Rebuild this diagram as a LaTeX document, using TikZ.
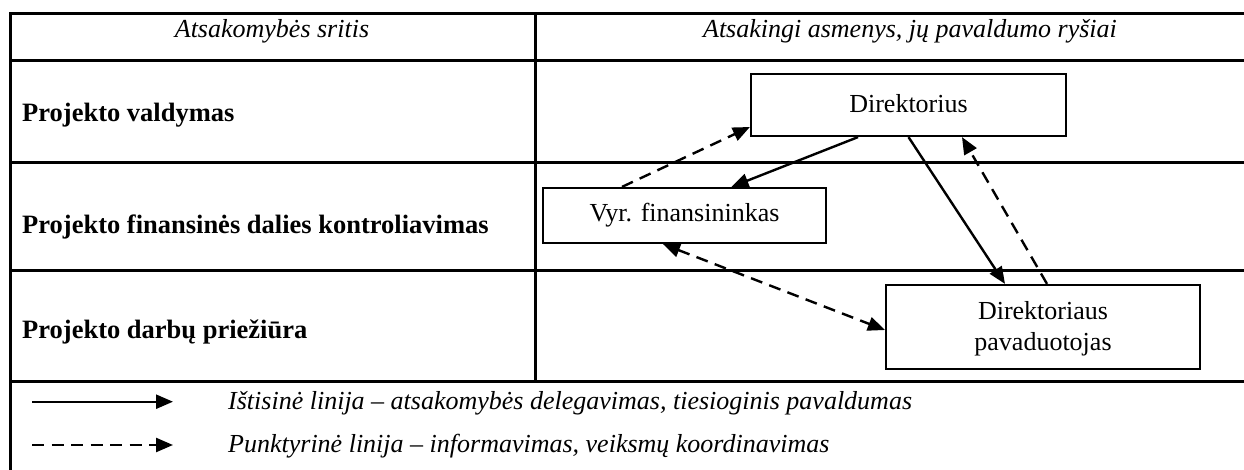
\documentclass[tikz,border=0pt]{standalone}
\usepackage{fontspec}
\setmainfont{Liberation Serif}
\usetikzlibrary{arrows.meta,calc}
\begin{document}
\begin{tikzpicture}[x=1pt,y=-1pt,
  grid/.style={line width=3pt},
  box/.style={draw,line width=2.2pt,rectangle,inner sep=0pt,fill=white,
    font=\fontsize{26}{31}\selectfont,align=center},
  lbl/.style={inner sep=0pt,font=\fontsize{26.5}{31}\selectfont\bfseries,anchor=base west},
  hdr/.style={inner sep=0pt,font=\fontsize{26}{31}\selectfont\itshape,anchor=base},
  leg/.style={inner sep=0pt,font=\fontsize{26}{31}\selectfont\itshape,anchor=base west},
  tip/.tip={Triangle[length=17pt,width=14pt]},
  solidarrow/.style={line width=2.4pt,-tip},
  dasharrow/.style={solidarrow,dash pattern=on 12pt off 7.5pt},
]
\useasboundingbox (0,0) rectangle (1244,470);
\fill[white] (0,0) rectangle (1244,470);

% table rules
\draw[grid] (1250,14) -- (10,14) -- (10,475);
\draw[grid] (10,61) -- (1250,61);
\draw[grid] (10,162.5) -- (1250,162.5);
\draw[grid] (10,270.5) -- (1250,270.5);
\draw[grid] (10,381.5) -- (1250,381.5);
\draw[grid] (535,14) -- (535,381.5);

% column headers
\node[hdr] (h1) at (272,38) {Atsakomybės sritis};
\node[hdr] (h2) at (910,38) {Atsakingi asmenys, jų pavaldumo ryšiai};

% row labels
\node[lbl] (r1) at (22,122) {Projekto valdymas};
\node[lbl] (r2) at (22,234) {Projekto finansinės dalies kontroliavimas};
\node[lbl] (r3) at (22,338) {Projekto darbų priežiūra};

% persons
\node[box,minimum width=315pt,minimum height=62pt] (dir) at (908.5,105) {Direktorius\rule[-3pt]{0pt}{1pt}};
\node[box,minimum width=283pt,minimum height=55pt] (fin) at (684.5,215.5) {Vyr. finansininkas};
\node[box,minimum width=314pt,minimum height=84pt] (pav) at (1043,327) {\rule{0pt}{22pt}Direktoriaus\\pavaduotojas};

% relations
\draw[solidarrow] ([xshift=-50.5pt]dir.south) -- ([xshift=47pt]fin.north);
\draw[dasharrow] ([xshift=-62.5pt]fin.north) -- ([yshift=-22pt]dir.west);
\draw[solidarrow] (dir.south) -- ([xshift=-38pt]pav.north);
\draw[dasharrow] ([xshift=4pt]pav.north) -- ([xshift=53.5pt]dir.south);
\draw[dasharrow,tip-tip] ([xshift=-21.5pt]fin.south) -- ([yshift=-3pt]pav.west);

% legend
\coordinate (s0) at (32,401.7);
\coordinate (s1) at (173,401.7);
\coordinate (d0) at (32,445);
\coordinate (d1) at (173,445);
\draw[solidarrow] (s0) -- (s1);
\draw[dasharrow] (d0) -- (d1);
\node[leg] (l1) at (228,409) {Ištisinė linija – atsakomybės delegavimas, tiesioginis pavaldumas};
\node[leg] (l2) at (228,452) {Punktyrinė linija – informavimas, veiksmų koordinavimas};
\end{tikzpicture}
\end{document}
